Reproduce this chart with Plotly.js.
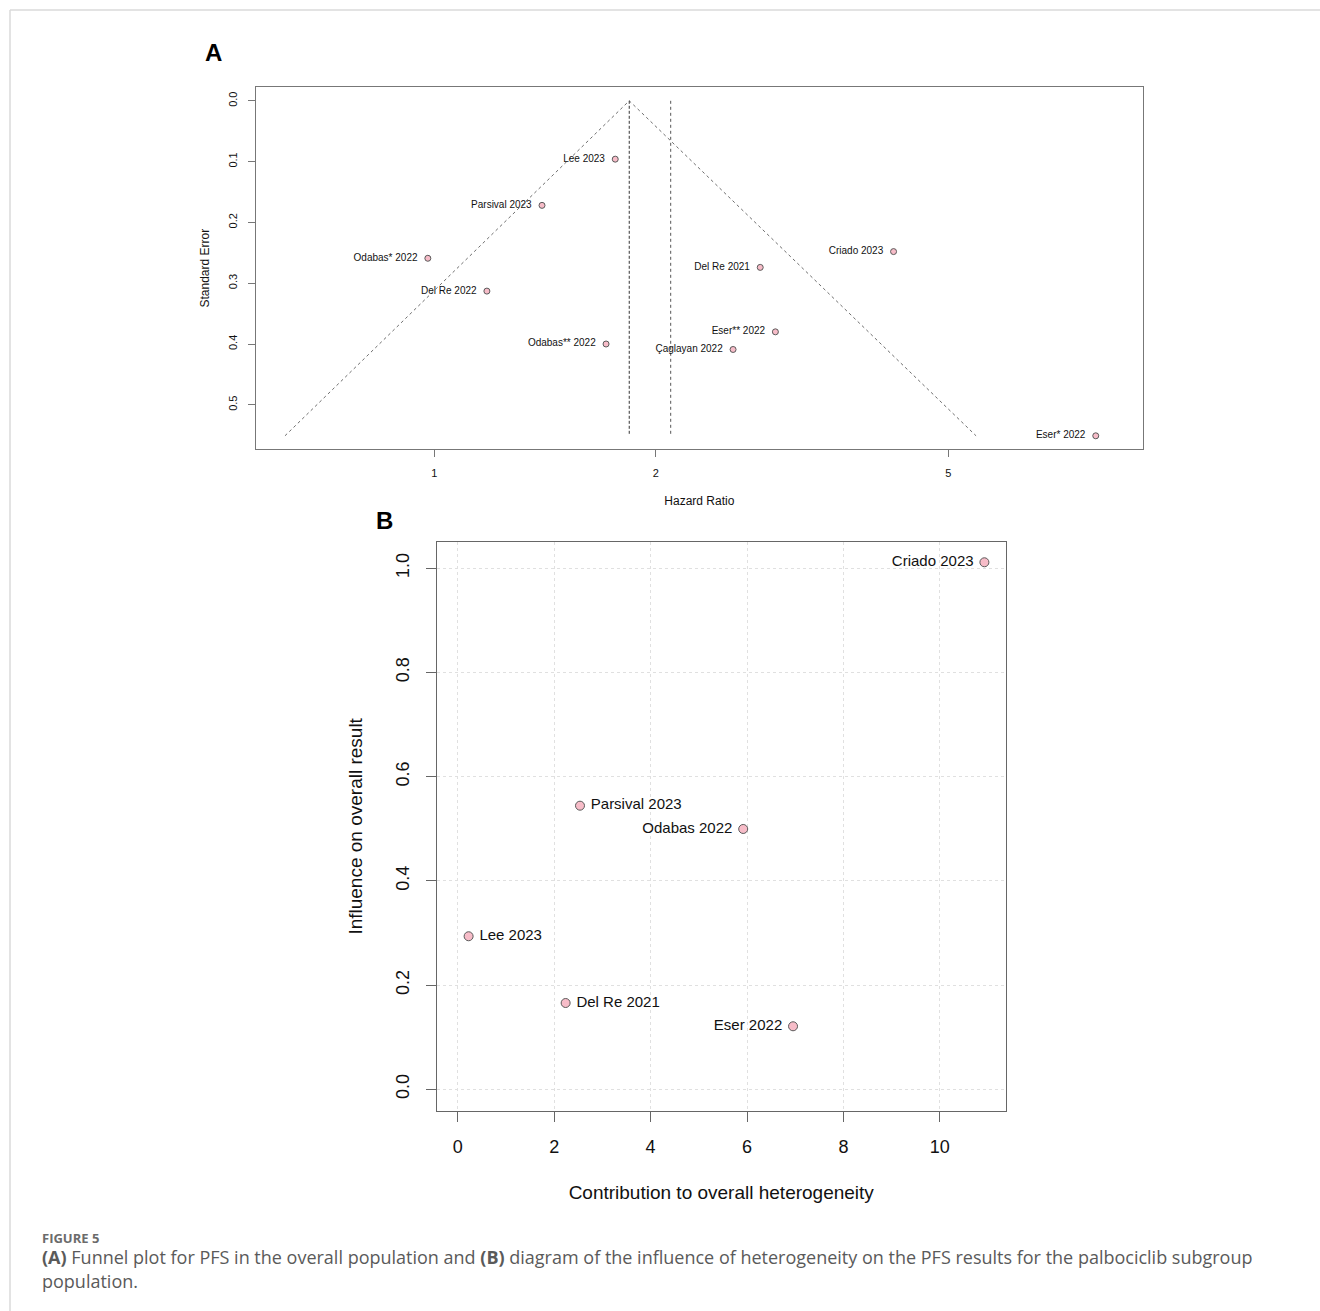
<!DOCTYPE html>
<html>
<head>
<meta charset="utf-8">
<script src="https://cdn.plot.ly/plotly-3.0.1.min.js"></script>
<style>
  html, body { margin: 0; padding: 0; background: #ffffff; }
  #chart { width: 1320px; height: 1311px; }
</style>
</head>
<body>
<div id="chart"></div>
<script>
// ---------- Panel A: funnel plot (PFS, overall population) ----------
const studiesA = ['Lee 2023', 'Parsival 2023', 'Odabas* 2022', 'Del Re 2022', 'Odabas** 2022',
                  'Criado 2023', 'Del Re 2021', 'Eser** 2022', 'Çaglayan 2022', 'Eser* 2022'];
const hazardRatioA = [1.762, 1.401, 0.980, 1.179, 1.712, 4.211, 2.774, 2.909, 2.548, 7.93];
const standardErrorA = [0.096, 0.172, 0.259, 0.313, 0.400, 0.248, 0.274, 0.380, 0.409, 0.551];

// funnel outline (pseudo 95% limits) and pooled estimates
const funnelHR = [0.6266, 1.841, 5.452];
const funnelSE = [0.551, 0.0, 0.551];
const pooledFixedHR = 1.841;
const pooledRandomHR = 2.096;
const pooledLineSE = [0.0, 0.551];
const ticksA_x = [1, 2, 5];
const ticksA_y = [0.0, 0.1, 0.2, 0.3, 0.4, 0.5];
const tickLabelsA_y = ['0.0', '0.1', '0.2', '0.3', '0.4', '0.5'];

// ---------- Panel B: influence vs heterogeneity (palbociclib subgroup) ----------
const studiesB = ['Criado 2023', 'Parsival 2023', 'Odabas 2022', 'Lee 2023', 'Del Re 2021', 'Eser 2022'];
const heterogeneityB = [10.925, 2.535, 5.921, 0.224, 2.237, 6.955];
const influenceB = [1.0115, 0.5443, 0.4996, 0.2937, 0.1656, 0.1209];
const labelSideB = ['middle left', 'middle right', 'middle left', 'middle right', 'middle right', 'middle left'];
const ticksB_x = [0, 2, 4, 6, 8, 10];
const ticksB_y = [0.0, 0.2, 0.4, 0.6, 0.8, 1.0];
const tickLabelsB_y = ['0.0', '0.2', '0.4', '0.6', '0.8', '1.0'];

const FONT = 'Liberation Sans, Arial, Helvetica, sans-serif';
const CAPFONT = 'Open Sans, Noto Sans, sans-serif';
const W = 1320, H = 1311;
const px = v => v / W;
const py = v => 1 - v / H;
const NB = '\u00A0';

const markerPink = '#f7bcc8';
const markerEdge = '#5a5a5a';

// pad labels away from the point marker
const textA = studiesA.map(s => s + NB + NB);
const textB = studiesB.map((s, i) => labelSideB[i] === 'middle left' ? s + NB : NB + s);

const traces = [
  { x: funnelHR, y: funnelSE, xaxis: 'x', yaxis: 'y', type: 'scatter', mode: 'lines',
    line: { color: '#6e6e6e', width: 1, dash: 'dot' }, hoverinfo: 'skip', showlegend: false },
  { x: [pooledFixedHR, pooledFixedHR], y: pooledLineSE, xaxis: 'x', yaxis: 'y', type: 'scatter', mode: 'lines',
    line: { color: '#333333', width: 1, dash: '3px,2px' }, hoverinfo: 'skip', showlegend: false },
  { x: [pooledRandomHR, pooledRandomHR], y: pooledLineSE, xaxis: 'x', yaxis: 'y', type: 'scatter', mode: 'lines',
    line: { color: '#555555', width: 1, dash: 'dot' }, hoverinfo: 'skip', showlegend: false },
  { x: hazardRatioA, y: standardErrorA, text: textA, xaxis: 'x', yaxis: 'y', type: 'scatter',
    mode: 'markers+text', textposition: 'middle left',
    textfont: { family: FONT, size: 10, color: '#111111' },
    marker: { size: 6, color: markerPink, line: { color: markerEdge, width: 1 } },
    hoverinfo: 'text', showlegend: false },
  { x: heterogeneityB, y: influenceB, text: textB, xaxis: 'x2', yaxis: 'y2', type: 'scatter',
    mode: 'markers+text', textposition: labelSideB,
    textfont: { family: FONT, size: 15, color: '#111111' },
    marker: { size: 9, color: markerPink, line: { color: markerEdge, width: 1 } },
    hoverinfo: 'text', showlegend: false }
];

const layout = {
  width: W, height: H,
  margin: { l: 0, r: 0, t: 0, b: 0 },
  paper_bgcolor: '#ffffff', plot_bgcolor: '#ffffff',
  font: { family: FONT, color: '#111111' },
  showlegend: false,
  xaxis: {
    domain: [px(255.7), px(1143)], anchor: 'y', type: 'log',
    range: [-0.2428, 0.9635],
    tickmode: 'array', tickvals: ticksA_x, ticktext: ticksA_x.map(String),
    ticks: 'outside', ticklen: 7, tickwidth: 1, tickcolor: '#777777',
    showline: true, mirror: true, linecolor: '#777777', linewidth: 1.2,
    showgrid: false, zeroline: false, automargin: false,
    tickfont: { family: FONT, size: 11, color: '#111111' }, ticklabelstandoff: 7,
    title: { text: 'Hazard Ratio', font: { family: FONT, size: 12, color: '#111111' }, standoff: 18 }
  },
  yaxis: {
    domain: [py(449), py(87.3)], anchor: 'x',
    range: [0.5727, -0.0222],
    tickmode: 'array', tickvals: ticksA_y, ticktext: tickLabelsA_y, tickangle: -90,
    ticks: 'outside', ticklen: 7, tickwidth: 1, tickcolor: '#777777',
    showline: true, mirror: true, linecolor: '#777777', linewidth: 1.2,
    showgrid: false, zeroline: false, automargin: false,
    tickfont: { family: FONT, size: 11, color: '#111111' }, ticklabelstandoff: 6,
    title: { text: 'Standard Error', font: { family: FONT, size: 12, color: '#111111' }, standoff: 14 }
  },
  xaxis2: {
    domain: [px(436.8), px(1005.7)], anchor: 'y2',
    range: [-0.436, 11.367],
    tickmode: 'array', tickvals: ticksB_x, ticktext: ticksB_x.map(String),
    ticks: 'outside', ticklen: 10, tickwidth: 1, tickcolor: '#666666',
    showline: true, mirror: true, linecolor: '#666666', linewidth: 1.2,
    showgrid: true, gridcolor: '#e0e0e0', griddash: 'dot', gridwidth: 1,
    zeroline: false, automargin: false,
    tickfont: { family: FONT, size: 18, color: '#111111' }, ticklabelstandoff: 9,
    title: { text: 'Contribution to overall heterogeneity', font: { family: FONT, size: 19, color: '#111111' }, standoff: 30 }
  },
  yaxis2: {
    domain: [py(1111), py(541.7)], anchor: 'x2',
    range: [-0.0417, 1.051],
    tickmode: 'array', tickvals: ticksB_y, ticktext: tickLabelsB_y, tickangle: -90,
    ticks: 'outside', ticklen: 10, tickwidth: 1, tickcolor: '#666666',
    showline: true, mirror: true, linecolor: '#666666', linewidth: 1.2,
    showgrid: true, gridcolor: '#e0e0e0', griddash: 'dot', gridwidth: 1,
    zeroline: false, automargin: false,
    tickfont: { family: FONT, size: 18, color: '#111111' }, ticklabelstandoff: 9,
    title: { text: 'Influence on overall result', font: { family: FONT, size: 19, color: '#111111' }, standoff: 25 }
  },
  shapes: [
    { type: 'line', xref: 'paper', yref: 'paper', x0: px(10), x1: 1, y0: py(10), y1: py(10),
      line: { color: '#dadada', width: 1.5 } },
    { type: 'line', xref: 'paper', yref: 'paper', x0: px(10), x1: px(10), y0: py(10), y1: 0,
      line: { color: '#dadada', width: 1.5 } }
  ],
  annotations: [
    { text: '<b>A</b>', xref: 'paper', yref: 'paper', x: px(213), y: py(53), xanchor: 'center', yanchor: 'middle',
      showarrow: false, font: { family: FONT, size: 24, color: '#000000' } },
    { text: '<b>B</b>', xref: 'paper', yref: 'paper', x: px(384), y: py(521), xanchor: 'center', yanchor: 'middle',
      showarrow: false, font: { family: FONT, size: 24, color: '#000000' } },
    { text: '<b>FIGURE 5</b>', xref: 'paper', yref: 'paper', x: px(40), y: py(1238), xanchor: 'left', yanchor: 'middle',
      showarrow: false, font: { family: CAPFONT, size: 13, color: '#6b6b6b' } },
    { text: '<b>(A)</b> Funnel plot for PFS in the overall population and <b>(B)</b> diagram of the influence of heterogeneity on the PFS results for the palbociclib subgroup',
      xref: 'paper', yref: 'paper', x: px(40), y: py(1257), xanchor: 'left', yanchor: 'middle',
      showarrow: false, font: { family: CAPFONT, size: 18, color: '#5a5a5a' } },
    { text: 'population.', xref: 'paper', yref: 'paper', x: px(40), y: py(1281), xanchor: 'left', yanchor: 'middle',
      showarrow: false, font: { family: CAPFONT, size: 18, color: '#5a5a5a' } }
  ]
};

Plotly.newPlot('chart', traces, layout, { displayModeBar: false, staticPlot: true });
</script>
</body>
</html>
